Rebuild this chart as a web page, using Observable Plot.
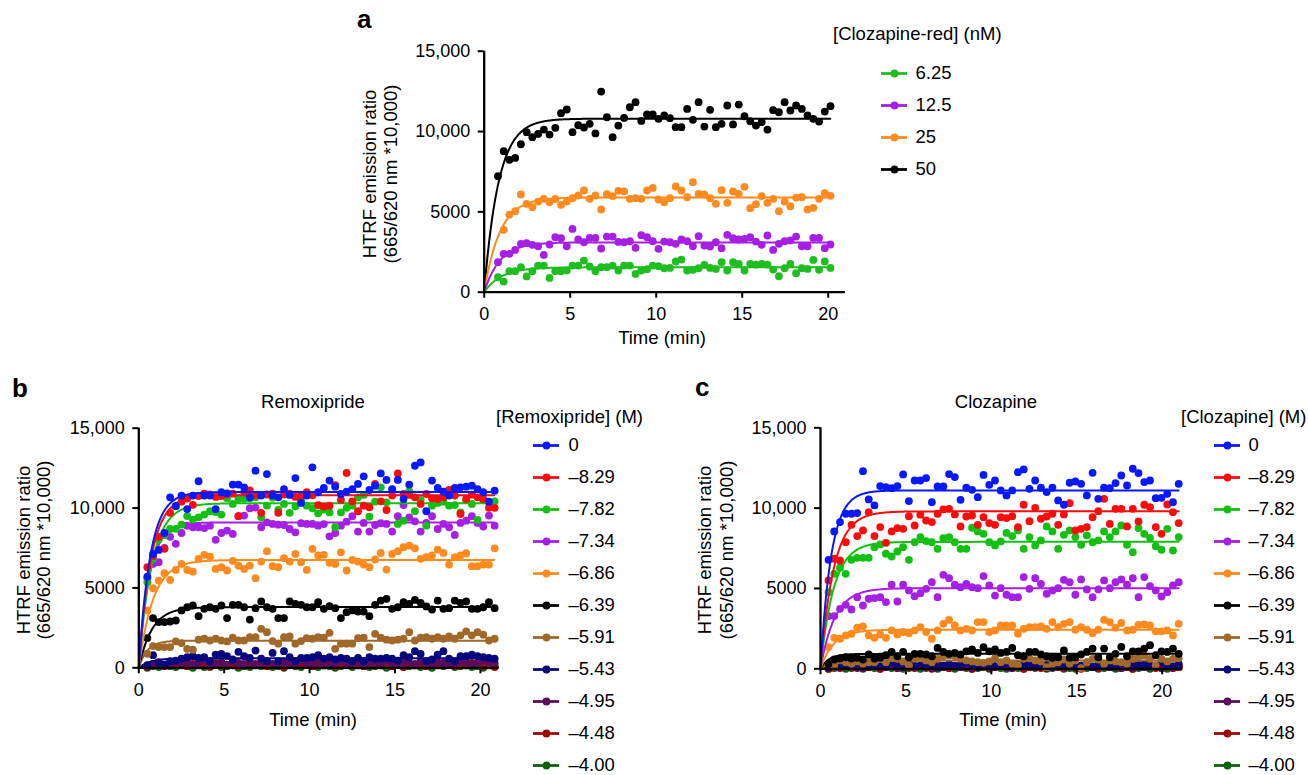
<!DOCTYPE html>
<html><head><meta charset="utf-8">
<script src="https://cdn.jsdelivr.net/npm/d3@7"></script>
<script src="https://cdn.jsdelivr.net/npm/@observablehq/plot@0.6"></script>
<style>
body{margin:0;background:#fff;}
#root{position:relative;width:1308px;height:775px;overflow:hidden;background:#fff;font-family:"Liberation Sans",Arial,Helvetica,sans-serif;}
.pw{position:absolute;}
.pw svg{max-width:none;display:block;}
</style></head><body><div id="root"></div>
<script>
const FONT = '"Liberation Sans", Arial, Helvetica, sans-serif';
const X_TICKS = [0, 5, 10, 15, 20];
const Y_TICKS = [0, 5000, 10000, 15000];

// ---------- Panel a : [Clozapine-red] (nM) ----------
const aLabels = ["6.25", "12.5", "25", "50"];
const aColors = ["#1fbe1f", "#a61fe4", "#ff8a1e", "#000000"];
const aPlateau = [1550, 3100, 5900, 10800];
const aRate = [1.0, 1.1, 1.1, 1.2];
const aT0 = 0.8, aDT = 1 / 3;
const aGreen = [930,660,1310,1310,1560,980,1310,1660,1660,890,1310,1310,1350,1660,1660,1970,1600,1310,1560,1560,1660,1350,1660,1660,1140,1350,1430,1660,1620,1490,1510,1910,2030,1350,1390,1490,1700,1510,1450,1870,1350,1870,1760,1350,1760,1720,1760,1720,1410,1000,1490,1760,1180,1490,1450,2010,1390,1910,1510];
const aPurple = [1870,2390,2390,2630,3010,3050,2950,2860,2320,2970,3420,3360,2860,3940,3280,3110,3380,3380,2720,3460,3460,3130,3110,3170,2760,3550,3420,3170,2700,3150,3110,3010,3280,3170,2860,3490,2900,2840,3110,2740,3570,3360,3280,3320,3420,3150,2950,3530,2630,3010,3170,3220,3460,2860,2860,3380,3380,2740,2970];
const aOrange = [null,3880,4830,5040,6080,5500,5290,5640,5810,5600,5800,5440,5640,5850,6020,6330,5810,6020,5150,6100,5980,6310,6270,5810,5850,5810,6330,6490,5770,5600,5850,6580,6330,5910,6850,6120,6080,5850,5500,6350,5560,6270,6120,6560,5230,5480,5980,5560,5810,5040,5640,5350,5890,5910,5150,5250,5810,6160,6000];
const aBlack = [7220,8780,8240,8360,9210,9960,9650,9850,10120,9810,10230,11140,11370,9960,10390,10250,10480,9880,12490,10890,9650,10370,10850,11510,11830,10660,11060,11060,10790,11000,10830,10270,10270,11410,10730,11830,10310,11350,10270,10480,11620,10440,11680,10950,10640,10370,10580,10120,11330,11200,11830,11310,11620,11410,11000,10790,10620,11240,11580];

// ---------- Panels b, c : legend shared ----------
const bcLabels = ["0", "\u20138.29", "\u20137.82", "\u20137.34", "\u20136.86", "\u20136.39", "\u20135.91", "\u20135.43", "\u20134.95", "\u20134.48", "\u20134.00"];
const bcColors = ["#0718ff", "#ff0a0a", "#12c012", "#a61fe4", "#ff8a1e", "#000000", "#a0692a", "#06067e", "#5c0a5c", "#9b0505", "#0a620a"];

// ---------- Panel b : Remoxipride ----------
const bPlateau = [11000, 10800, 10300, 9100, 6750, 3800, 1700, 600, 300, 200, 100];
const bRate = [1.5, 1.4, 1.3, 1.6, 1.2, 1.3, 2.0, 1.5, 1.0, 1.0, 1.0];
const bT0 = 0.5, bDT = 1 / 3;
const bBlue = [5710,7130,7380,8440,10670,10130,10780,9940,10780,11680,10780,10780,9940,10990,10920,11470,11470,11300,10670,12340,10780,12130,10780,10670,11190,10820,11880,10320,10780,12550,10990,11260,11720,11340,10880,11030,11190,11510,11990,11130,11400,12170,11760,11190,11760,10570,11470,12650,12860,9800,11720,11260,11030,10780,11260,11300,11340,11400,11190,10990,10400,11090];
const bRed = [6300,7000,8200,7450,9700,10100,10400,10600,10200,10750,10900,10850,10700,10750,10850,10900,9500,11000,11100,10800,9700,10850,10900,9700,10850,10900,10700,10750,11000,10800,10190,10090,10150,11440,10510,12200,10420,9800,10150,10050,11510,10420,9880,10780,12170,10880,10820,10670,10260,10880,10610,10570,10670,11130,10780,9630,10570,10840,10670,10570,10010,10010];
const bGreen = [5360,6820,8030,8300,8690,8700,8960,9500,9280,9420,9590,9800,9750,9590,10610,10260,10570,10600,10620,10680,9420,10150,10650,9880,10260,9700,10100,10470,10150,9990,9670,9900,9730,8800,9730,10010,10150,10670,10820,9460,10400,11300,10360,11130,9010,9210,11050,9800,10510,8900,10150,10320,10400,10150,10190,9730,10510,10260,9260,10510,10360,10420];
const bPurple = [5600,6500,6610,7500,8200,7760,8440,8900,8800,8800,8750,8900,8010,8440,8590,8380,9490,9530,9990,10030,8800,9110,9010,8960,8940,8690,8480,9050,9010,9010,8900,9000,8230,8440,8900,9150,9490,8530,9070,8530,8940,9050,9010,8530,9490,10190,9420,9170,8530,9070,9490,8690,9010,8800,8320,9070,9210,9490,9070,8840,9530,8900];
const bOrange = [3590,4980,5460,5920,5500,6130,6500,6130,6020,6820,7070,6960,6190,6300,6090,6700,6400,6190,6400,5610,6650,7300,6360,6300,6860,6650,7130,6610,6130,7440,7030,7070,6570,6500,7230,6090,6750,6650,6460,6300,6780,7190,6150,7130,7300,7550,7650,7480,6820,6920,7030,7400,7190,6460,6920,7030,7170,6360,6360,6460,6460,7480];
const bBlack = [1860,3110,2860,2860,2900,2960,3590,3790,3900,3230,3690,3790,3690,3900,3110,3940,3940,3790,3020,3730,4150,3790,3690,3110,3110,4150,4000,3940,3790,3790,4110,3690,3860,3730,3110,3480,3590,3520,3520,3230,3940,4210,4320,3690,3790,4110,4000,4250,4070,3840,3650,4210,3690,3730,4210,4070,4150,3690,3690,3790,4110,3730];
const bBrown = [880,1360,1300,1300,1300,1650,1550,1190,1130,1760,1820,1710,1820,1710,1650,1880,1710,1710,1920,1920,2440,2230,1670,1510,1920,1960,1510,1670,1860,1820,1920,1880,2190,1190,1510,1510,1510,1860,1880,1300,2130,1880,1760,1710,1760,1820,2230,1710,1880,1920,1820,1920,1820,1960,1820,2030,2280,2030,2230,2070,1710,1820];
const bNavy = [160,790,310,200,410,450,580,660,730,620,660,410,830,870,730,520,1000,730,620,1080,580,410,930,410,1040,660,410,620,620,660,790,580,660,520,620,580,410,620,410,660,580,580,620,580,450,790,660,1040,870,410,520,830,1040,580,410,730,730,830,730,660,620,580];
const bDkPurple = [100,250,350,200,300,400,250,350,200,300,450,250,300,350,200,400,300,250,350,150,300,400,250,300,350,200,300,450,250,300,350,250,200,300,400,300,250,350,200,300,350,250,400,300,200,350,300,250,400,300,200,350,300,250,300,400,350,250,300,450,350,300];
const bDkRed = [50,150,250,100,200,300,150,100,250,200,150,50,200,300,150,250,100,200,150,250,300,100,200,150,50,250,200,150,300,100,200,150,250,100,200,300,150,200,100,250,200,150,300,100,200,50,250,150,200,100,300,200,150,250,100,200,150,300,200,100,250,50];
const bDkGreen = [0,100,50,150,100,50,200,100,0,150,50,100,200,50,100,150,0,100,50,200,100,150,50,100,0,150,100,50,200,100,50,150,100,0,100,200,50,150,100,50,100,150,0,100,200,50,100,150,50,100,0,150,100,200,50,100,150,50,100,0,150,100];

// ---------- Panel c : Clozapine ----------
const cPlateau = [11100, 9800, 7900, 5020, 2430, 930, 520, 250, 150, 100, 60];
const cRate = [1.6, 1.3, 1.3, 1.2, 1.3, 2.0, 1.5, 1.0, 1.0, 1.0, 1.0];
const cT0 = 0.47, cDT = 0.336;
const cBlue = [6780,8550,9130,9650,9650,9690,12300,10540,10170,11370,11310,11240,11370,12100,10440,11720,11720,11870,10370,11350,11350,12120,11930,10520,11270,11140,10680,12070,11450,11720,11100,10790,11100,12240,12410,11200,11720,11270,11000,11270,10480,10210,11580,11660,11510,10790,12200,10580,11270,11240,11560,12030,11410,12450,12180,11620,11720,10620,10640,10890,10370,11510];
const cRed = [5500,6850,6740,7880,8960,8260,8610,9750,8260,8820,7840,8550,8760,8710,9500,8920,9590,9230,9130,9650,9920,9960,9610,8860,9480,9540,8960,9440,9070,8960,9440,9380,9500,8820,10210,9190,10020,9340,9480,9650,8960,9610,10310,8610,8710,8820,9440,9810,10580,9020,9960,9960,8860,9960,9170,10210,10060,8820,8400,10230,9750,9070];
const cGreen = [4770,5910,6290,5910,6780,6910,6910,6910,7570,7740,7160,6990,7300,7570,6780,7880,8200,7950,7880,7470,8130,8200,7880,7470,7470,8780,8550,8400,7880,7680,7930,8460,8260,8610,7470,8200,7680,7990,8860,8550,7470,8340,8610,8200,7720,8300,7880,7990,8550,8200,8550,8920,7720,7260,8760,8400,8150,7630,7410,8710,7370,8200];
const cPurple = [3280,3280,3730,3980,3690,4460,3940,4360,4400,4460,4150,5230,4190,5230,4880,4520,4710,4980,5390,4460,5850,5640,5230,5080,5290,5080,5020,5770,5190,4560,5020,4610,4460,4460,5710,4980,5640,5290,4670,4880,5020,5540,5390,4610,5560,4940,4460,4940,5500,5020,5390,5560,5230,5640,4460,5710,5150,4880,4500,4770,5190,5390];
const cOrange = [1350,1930,1870,2080,2180,2560,2640,2080,1930,2140,1930,2390,2140,2290,2220,2390,2600,2290,1870,2390,2800,3050,2700,2390,2490,2390,2910,2910,2290,2390,2700,2700,2700,2180,2490,2600,2600,2640,2490,2910,2600,2800,2910,2430,2600,2430,2220,2430,3050,2910,2560,2850,2390,2430,2740,2760,2700,2330,2330,2390,2080,2800];
const cBlack = [310,580,640,720,640,680,580,890,640,680,850,1050,780,1050,720,930,930,890,780,1300,1050,930,990,890,1090,1200,990,1340,1090,1200,990,1050,1300,850,780,1050,1050,890,780,680,720,1140,680,720,890,1050,1260,720,1260,720,930,1360,780,1090,1090,1260,1470,850,1090,1050,1260,930];
const cBrown = [310,210,520,410,310,460,310,410,410,620,410,660,620,460,210,620,660,520,410,620,790,830,790,620,520,460,410,370,460,660,410,520,310,210,620,660,520,460,100,310,410,580,310,520,40,410,620,580,310,520,460,410,310,620,730,830,620,210,620,460,620,660];
const cNavy = [100,300,150,250,200,350,100,250,300,150,200,400,250,100,300,200,150,350,250,100,200,300,150,250,400,200,100,300,250,150,200,350,100,250,300,200,150,250,350,100,200,300,250,150,200,400,100,250,300,200,150,350,200,100,250,300,150,200,400,250,150,300];
const cDkPurple = [50,200,100,250,150,50,200,100,300,150,100,200,50,150,250,100,200,150,50,300,100,150,200,100,250,50,150,200,100,150,250,100,50,200,150,300,100,150,50,200,250,100,150,200,50,150,100,250,200,100,150,50,200,300,150,100,200,150,50,250,100,200];
const cDkRed = [0,100,50,150,100,200,50,100,150,0,100,200,50,150,100,50,200,100,0,150,100,50,150,200,100,0,100,150,50,100,200,100,50,150,0,100,200,50,100,150,100,50,200,100,0,150,100,50,150,100,200,50,100,0,150,100,200,50,100,150,50,100];
const cDkGreen = [0,50,100,0,50,150,0,100,50,0,100,50,150,0,50,100,0,50,100,0,150,50,0,100,50,0,50,100,0,150,50,0,100,50,0,100,50,150,0,50,100,0,50,0,100,50,150,0,50,100,0,50,100,0,50,150,0,100,50,0,50,100];

const root = document.getElementById("root");
const yFmt = d => d >= 10000 ? d3.format(",")(d) : String(d);

function place(node, left, top) {
  const w = document.createElement("div");
  w.className = "pw";
  w.style.left = left + "px";
  w.style.top = top + "px";
  w.appendChild(node);
  root.appendChild(w);
}

function panel(cfg) {
  const pts = [], fits = [];
  cfg.values.forEach((arr, s) => {
    arr.forEach((v, i) => { if (v != null) pts.push({s, t: cfg.t0 + i * cfg.dt, v, c: cfg.colors[s]}); });
    const tEnd = cfg.t0 + (arr.length - 1) * cfg.dt;
    for (let t = 0; t <= tEnd + 1e-9; t += 0.04) fits.push({s, t, v: cfg.plateau[s] * (1 - Math.exp(-cfg.rate[s] * t)), c: cfg.colors[s]});
  });
  const marks = [];
  for (let s = cfg.values.length - 1; s >= 0; s--) {
    marks.push(Plot.dot(pts.filter(d => d.s === s), {x: "t", y: "v", r: 3.9, fill: "c", stroke: null}));
    marks.push(Plot.line(fits.filter(d => d.s === s), {x: "t", y: "v", stroke: "c", strokeWidth: 2}));
  }
  marks.push(Plot.ruleY([0], {strokeWidth: 2.3}));
  marks.push(Plot.ruleX([0], {strokeWidth: 2.3}));
  marks.push(Plot.axisX({ticks: X_TICKS, tickSize: 6, tickPadding: 9, strokeWidth: 2, fontSize: 18, label: null}));
  marks.push(Plot.axisY({ticks: Y_TICKS, tickFormat: yFmt, tickSize: 6, tickPadding: 8, strokeWidth: 2, fontSize: 18, label: null}));
  const g = cfg.geom;
  const chart = Plot.plot({
    width: g.width, height: g.height,
    marginLeft: g.ml, marginRight: g.mr, marginTop: g.mt, marginBottom: g.mb,
    x: {domain: [0, g.xmax]},
    y: {domain: [0, 15000]},
    color: {type: "identity"},
    style: {fontFamily: FONT, fontSize: "18px", background: "transparent", color: "#000", overflow: "visible"},
    marks
  });
  place(chart, g.left, g.top);
}

function legend(cfg) {
  const items = cfg.labels.map((label, i) => ({label, c: cfg.colors[i]}));
  const g = cfg.geom;
  const chart = Plot.plot({
    width: g.width, height: g.height, margin: 0,
    x: {domain: [0, 1], range: [g.x1, g.x2], axis: null},
    y: {type: "point", domain: cfg.labels, range: [g.y1, g.y2], padding: 0, axis: null},
    color: {type: "identity"},
    style: {fontFamily: FONT, fontSize: "18px", background: "transparent", color: "#000", overflow: "visible"},
    marks: [
      Plot.ruleY(items, {y: "label", x1: 0, x2: 1, stroke: "c", strokeWidth: 2.8}),
      Plot.dot(items, {x: 0.5, y: "label", r: 3.9, fill: "c", stroke: null}),
      Plot.text(items, {x: 1, y: "label", text: "label", textAnchor: "start", dx: g.dx, fontSize: 18.5, fill: "#000"})
    ]
  });
  place(chart, g.left, g.top);
}

panel({values: [aGreen, aPurple, aOrange, aBlack], colors: aColors, plateau: aPlateau, rate: aRate, t0: aT0, dt: aDT,
  geom: {left: 390, top: 40, width: 470, height: 300, ml: 93.7, mr: 15.1, mt: 10.7, mb: 48.3, xmax: 21}});
panel({values: [bBlue, bRed, bGreen, bPurple, bOrange, bBlack, bBrown, bNavy, bDkPurple, bDkRed, bDkGreen], colors: bcColors, plateau: bPlateau, rate: bRate, t0: bT0, dt: bDT,
  geom: {left: 40, top: 415, width: 470, height: 300, ml: 98.3, mr: 11.3, mt: 12.7, mb: 47.7, xmax: 21.1}});
panel({values: [cBlue, cRed, cGreen, cPurple, cOrange, cBlack, cBrown, cNavy, cDkPurple, cDkRed, cDkGreen], colors: bcColors, plateau: cPlateau, rate: cRate, t0: cT0, dt: cDT,
  geom: {left: 720, top: 415, width: 470, height: 300, ml: 100, mr: 7.8, mt: 12.3, mb: 46.7, xmax: 21.2}});

legend({labels: aLabels, colors: aColors, geom: {left: 870, top: 55, width: 200, height: 130, x1: 11, x2: 37, y1: 16.7, y2: 115, dx: 8}});
legend({labels: bcLabels, colors: bcColors, geom: {left: 525, top: 430, width: 150, height: 345, x1: 8, x2: 34, y1: 14.3, y2: 336.7, dx: 9}});
legend({labels: bcLabels, colors: bcColors, geom: {left: 1205, top: 430, width: 103, height: 345, x1: 9, x2: 35, y1: 13, y2: 336.7, dx: 8}});

// ---------- static texts ----------
const ov = d3.select(root).append("svg")
  .attr("width", 1308).attr("height", 775)
  .style("position", "absolute").style("left", "0px").style("top", "0px")
  .style("font-family", FONT).style("overflow", "visible");

function txt(s, x, y, opts = {}) {
  const t = ov.append("text").attr("x", x).attr("y", y).text(s)
    .attr("font-size", opts.size || 18.5)
    .attr("text-anchor", opts.anchor || "start")
    .attr("font-weight", opts.bold ? "bold" : "normal")
    .attr("fill", "#000");
  if (opts.rot) t.attr("transform", `rotate(-90 ${x} ${y})`);
  return t;
}
// panel letters
txt("a", 357, 28, {size: 26, bold: true});
txt("b", 12, 397, {size: 26, bold: true});
txt("c", 695, 396, {size: 26, bold: true});
// titles
txt("Remoxipride", 313, 408, {anchor: "middle"});
txt("Clozapine", 996, 408, {anchor: "middle"});
// x-axis titles
txt("Time (min)", 662, 344, {anchor: "middle"});
txt("Time (min)", 313, 726, {anchor: "middle"});
txt("Time (min)", 1003, 726, {anchor: "middle"});
// y-axis titles
const yt1 = "HTRF emission ratio", yt2 = "(665/620 nm *10,000)";
txt(yt1, 376, 174, {anchor: "middle", rot: true});
txt(yt2, 397, 174, {anchor: "middle", rot: true});
txt(yt1, 30, 550, {anchor: "middle", rot: true});
txt(yt2, 50, 550, {anchor: "middle", rot: true});
txt(yt1, 711, 550, {anchor: "middle", rot: true});
txt(yt2, 733, 550, {anchor: "middle", rot: true});
// legend titles
txt("[Clozapine-red] (nM)", 833, 40);
txt("[Remoxipride] (M)", 496, 423);
txt("[Clozapine] (M)", 1181, 423);
</script></body></html>
